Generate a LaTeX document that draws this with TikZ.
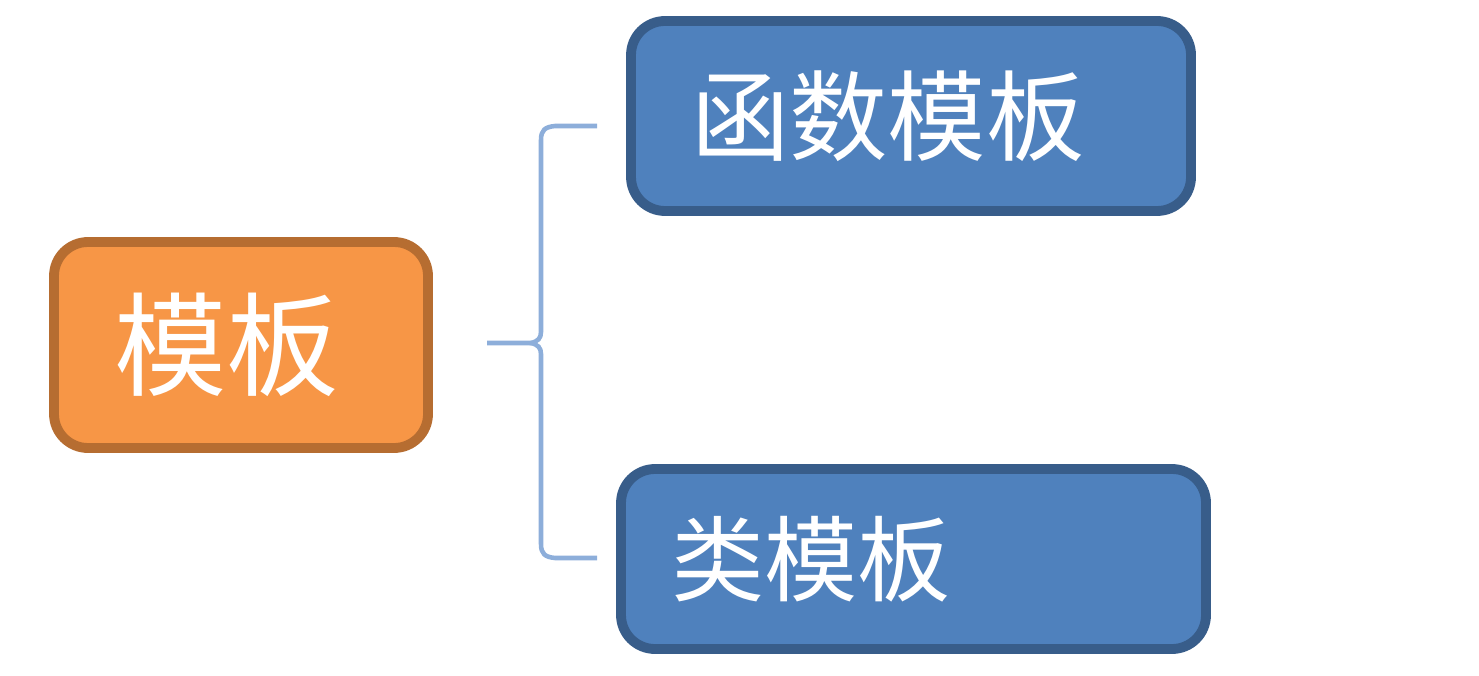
\documentclass[tikz,border=0pt]{standalone}
\usepackage{fontspec}
\usepackage{xcolor}
\usepackage{tikz}
\usetikzlibrary{calc}
\newfontfamily\cjk{Noto Sans CJK SC}
\definecolor{orangeF}{HTML}{F79646}
\definecolor{orangeD}{HTML}{B66D31}
\definecolor{blueF}{HTML}{4F81BD}
\definecolor{blueD}{HTML}{385D8A}
\definecolor{braceB}{HTML}{8DAEDA}

\begin{document}
\begin{tikzpicture}[
    box/.style={rectangle, rounded corners=0.34cm, line width=2.8pt, text=white, align=left, inner xsep=0.6cm, inner ysep=0pt},
    rootbox/.style={box, fill=orangeF, draw=orangeD, font=\cjk\fontsize{32}{36}\selectfont},
    leafbox/.style={box, fill=blueF, draw=blueD, font=\cjk\fontsize{28}{32}\selectfont},
    bracket/.style={draw=braceB, line width=1.3pt, line join=round}
]
\useasboundingbox (0,0) rectangle (14.79,-6.76);
% ---- root ----
\node[rootbox, text width=2.54cm, minimum height=2.06cm] (tmpl) at (2.41,-3.45) {模板};

% ---- leaves ----
\node[leafbox, text width=4.40cm, minimum height=1.90cm, yshift=-0.06cm] (functmpl) at (9.11,-1.10) {函数模板};
\node[leafbox, font=\cjk\fontsize{26.5}{30}\selectfont, inner xsep=0.5cm, text width=4.85cm, minimum height=1.80cm] (classtmpl) at (9.135,-5.59) {类模板};

% ---- brace ----
\coordinate (tip) at (4.87,-3.43);
\coordinate (armtop) at (5.97,-1.26);
\coordinate (armbot) at (5.97,-5.58);
\draw[bracket] (armtop) -- (5.55,-1.26) .. controls (5.45,-1.27) and (5.41,-1.30) .. (5.41,-1.40)
    -- (5.41,-3.32) .. controls (5.41,-3.38) and (5.38,-3.42) .. (5.30,-3.43) -- (tip);
\draw[bracket] (armbot) -- (5.55,-5.58) .. controls (5.45,-5.57) and (5.41,-5.54) .. (5.41,-5.44)
    -- (5.41,-3.54) .. controls (5.41,-3.48) and (5.38,-3.44) .. (5.30,-3.43);
\end{tikzpicture}
\end{document}
